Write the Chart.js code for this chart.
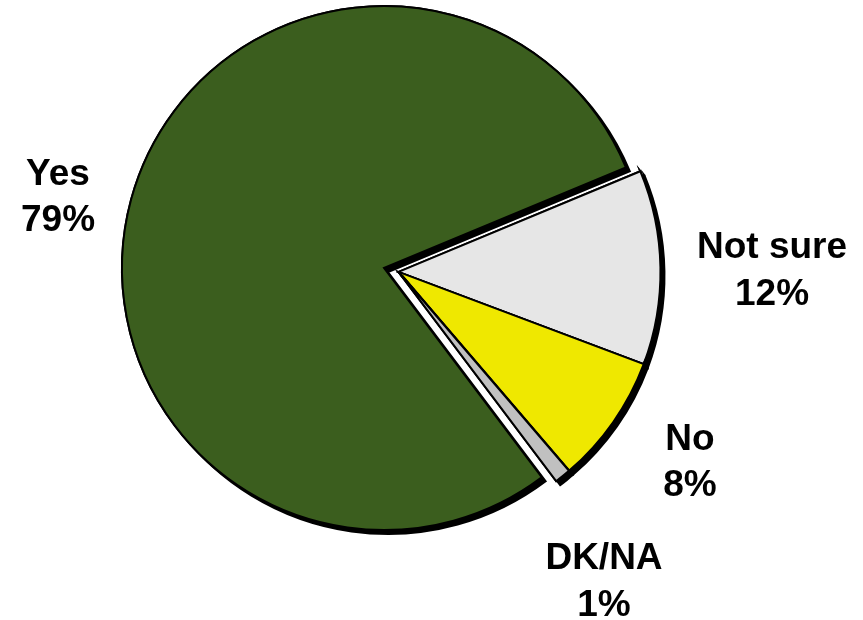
<!DOCTYPE html>
<html>
<head>
<meta charset="utf-8">
<script src="https://cdn.jsdelivr.net/npm/chart.js@4/dist/chart.umd.min.js"></script>
<style>
  html, body { margin: 0; padding: 0; background: #ffffff; }
  canvas { display: block; }
</style>
</head>
<body>
<canvas id="pie" width="863" height="620"></canvas>
<script>
// Survey answers and their shares (percent)
const categories = ['Yes', 'Not sure', 'No', 'DK/NA'];
const shares = [79, 12, 8, 1];
const valueLabels = ['79%', '12%', '8%', '1%'];
// Which slices are pulled out of the pie together
const exploded = [false, true, true, true];

const sliceColors = ['#3b5e1e', '#e6e6e6', '#efe800', '#c0c0c0'];
// Label anchors (centre x, first and second line baselines)
const labelAnchors = [
  { x: 58,  y1: 185, y2: 231 },
  { x: 772, y1: 258, y2: 305 },
  { x: 690, y1: 450, y2: 496 },
  { x: 604, y1: 569, y2: 616 }
];

// Draws the arcs with a hard drop shadow and moves the exploded group
// outwards along the bisector of the group as a single block.
const explodedGroup = {
  id: 'explodedGroup',
  beforeDatasetDraw(chart, args, opts) {
    const ctx = chart.ctx;
    const arcs = args.meta.data;
    let start = Infinity, end = -Infinity;
    arcs.forEach((a, i) => {
      if (exploded[i]) {
        start = Math.min(start, a.startAngle);
        end = Math.max(end, a.endAngle);
      }
    });
    const mid = (start + end) / 2;
    const dx = Math.cos(mid) * opts.distance;
    const dy = Math.sin(mid) * opts.distance;
    arcs.forEach((arc, i) => {
      // shadowed pass, then a clean pass on top so the shadow only shows outside
      ctx.save();
      if (exploded[i]) ctx.translate(dx, dy);
      ctx.shadowColor = '#000000';
      ctx.shadowBlur = 0;
      ctx.shadowOffsetX = opts.shadow;
      ctx.shadowOffsetY = opts.shadow;
      arc.draw(ctx);
      ctx.restore();
      ctx.save();
      if (exploded[i]) ctx.translate(dx, dy);
      arc.draw(ctx);
      ctx.restore();
    });
    return false;
  }
};

const sliceLabels = {
  id: 'sliceLabels',
  afterDraw(chart) {
    const ctx = chart.ctx;
    ctx.save();
    ctx.fillStyle = '#000000';
    ctx.font = 'bold 37px "Liberation Sans", Arial, sans-serif';
    ctx.textAlign = 'center';
    ctx.textBaseline = 'alphabetic';
    categories.forEach((name, i) => {
      const a = labelAnchors[i];
      ctx.fillText(name, a.x, a.y1);
      ctx.fillText(valueLabels[i], a.x, a.y2);
    });
    ctx.restore();
  }
};

new Chart(document.getElementById('pie'), {
  type: 'pie',
  data: {
    labels: categories,
    datasets: [{
      data: shares,
      backgroundColor: sliceColors,
      borderColor: '#000000',
      borderWidth: 2,
      borderJoinStyle: 'miter'
    }]
  },
  options: {
    responsive: false,
    animation: false,
    rotation: 143,
    radius: 262,
    layout: { padding: { left: 0, right: 95, top: 0, bottom: 84 } },
    plugins: {
      legend: { display: false },
      tooltip: { enabled: false },
      explodedGroup: { distance: 15, shadow: 4 }
    }
  },
  plugins: [explodedGroup, sliceLabels]
});
</script>
</body>
</html>
